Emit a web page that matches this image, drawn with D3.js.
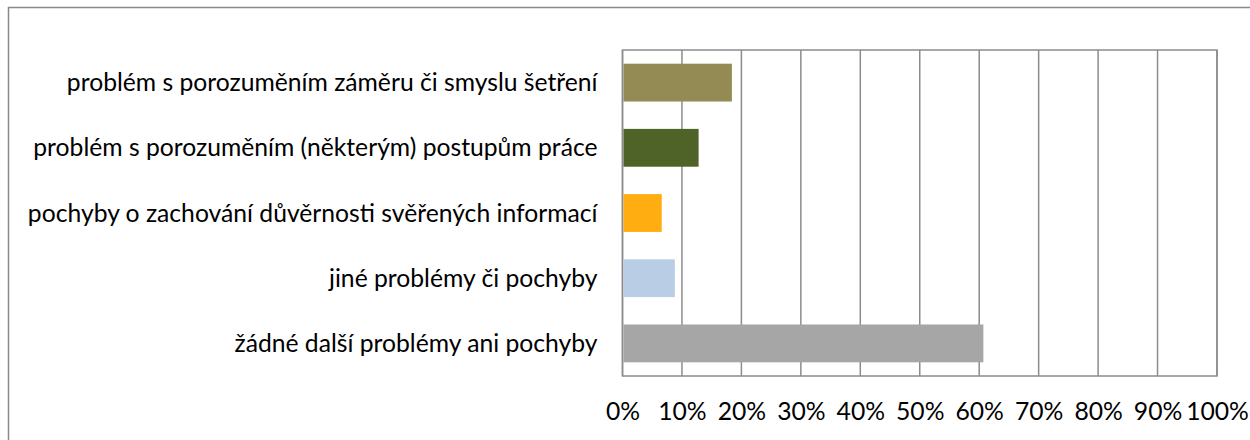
<!DOCTYPE html>
<html>
<head>
<meta charset="utf-8">
<script src="https://cdn.jsdelivr.net/npm/d3@7"></script>
<style>
  body { margin: 0; background: #fff; }
  text { font-family: Lato, "Open Sans", sans-serif; fill: #000; }
</style>
</head>
<body>
<script>
'use strict';

// chart data, top to bottom
const categories = [
  "problém s porozuměním záměru či smyslu šetření",
  "problém s porozuměním (některým) postupům práce",
  "pochyby o zachování důvěrnosti svěřených informací",
  "jiné problémy či pochyby",
  "žádné další problémy ani pochyby"
];
const values = [0.184, 0.128, 0.066, 0.088, 0.607];
const barColors = ["#948A54", "#4F6228", "#FFAD10", "#B9CDE5", "#A6A6A6"];
const tickValues = [0, 0.1, 0.2, 0.3, 0.4, 0.5, 0.6, 0.7, 0.8, 0.9, 1.0];

(function () {
  const width = 1250, height = 440;
  const plot = { left: 622.5, right: 1217, top: 50, bottom: 376 };

  let svg = d3.select('body').append('svg')
    .attr('width', width)
    .attr('height', height);

  // outer chart frame
  svg.append('rect')
    .attr('x', 8.5).attr('y', 7.5)
    .attr('width', 1260).attr('height', 460)
    .attr('fill', 'none')
    .attr('stroke', '#898989')
    .attr('stroke-width', 1.5);

  let xScale = d3.scaleLinear()
    .domain([0, 1])
    .range([plot.left, plot.right]);

  let yScale = d3.scaleBand()
    .domain(categories)
    .range([plot.top, plot.bottom])
    .paddingInner(0.42)
    .paddingOuter(0.21);

  // vertical gridlines
  svg.append('g')
    .selectAll('line')
    .data(tickValues)
    .enter()
    .append('line')
    .attr('x1', d => xScale(d)).attr('x2', d => xScale(d))
    .attr('y1', plot.top).attr('y2', plot.bottom)
    .attr('stroke', '#8c8c8c')
    .attr('stroke-width', 1.5);

  // plot area frame (top / bottom)
  svg.append('rect')
    .attr('x', plot.left).attr('y', plot.top)
    .attr('width', plot.right - plot.left)
    .attr('height', plot.bottom - plot.top)
    .attr('fill', 'none')
    .attr('stroke', '#8c8c8c')
    .attr('stroke-width', 1.5);

  // bars
  svg.append('g')
    .selectAll('rect')
    .data(categories)
    .enter()
    .append('rect')
    .attr('x', xScale(0) + 1)
    .attr('y', d => yScale(d))
    .attr('width', (d, i) => xScale(values[i]) - xScale(0) - 1)
    .attr('height', yScale.bandwidth())
    .attr('fill', (d, i) => barColors[i]);

  // category labels
  let labels = svg.append('g')
    .selectAll('text')
    .data(categories)
    .enter()
    .append('text')
    .attr('x', plot.left - 25)
    .attr('y', d => yScale(d) + yScale.bandwidth() / 2)
    .attr('dy', '0.35em')
    .attr('text-anchor', 'end')
    .style('font-size', '22px')
    .text(d => d);

  // fit font size so longest label spans ~570px like the original
  let longest = d3.max(labels.nodes(), n => n.getComputedTextLength());
  let fs = 22 * 570 / longest;
  labels.style('font-size', fs + 'px');

  // x axis tick labels
  let xAxis = d3.axisBottom(xScale)
    .tickValues(tickValues)
    .tickFormat(d3.format('.0%'))
    .tickSize(0)
    .tickPadding(0);
  let axisG = svg.append('g')
    .attr('transform', 'translate(0, 402)')
    .call(xAxis);
  axisG.select('.domain').remove();
  axisG.selectAll('text')
    .style('font-size', fs + 'px')
    .style('font-family', 'Lato, "Open Sans", sans-serif')
    .attr('fill', '#000')
    .attr('dy', '0.71em');
})();
</script>
</body>
</html>
